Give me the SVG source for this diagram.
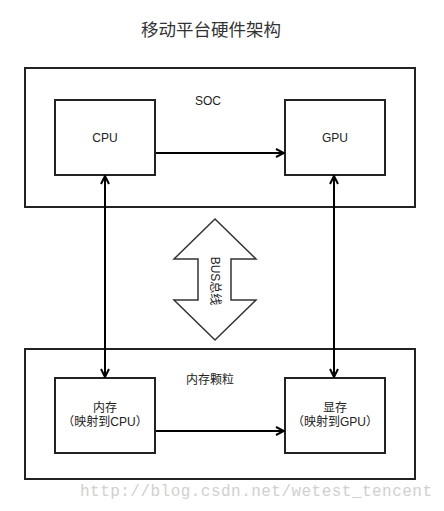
<svg xmlns="http://www.w3.org/2000/svg" width="444" height="511" viewBox="0 0 444 511">
<style>
.box{fill:#fff;stroke:#222;stroke-width:2}
.grp{fill:none;stroke:#222;stroke-width:2}
.t{font-family:"Liberation Sans","Noto Sans CJK SC",sans-serif;font-size:12px;fill:#222;text-anchor:middle}
.c{fill:none;stroke:#000;stroke-width:2}
</style>
<defs>
<marker id="a" viewBox="0 0 10 10" refX="9" refY="5" markerWidth="10" markerHeight="10" markerUnits="userSpaceOnUse" orient="auto-start-reverse">
<path d="M1,1 L9,5 L1,9" fill="none" stroke="#000" stroke-width="2"/>
</marker>
</defs>
<rect width="444" height="511" fill="#fff"/>
<text x="211" y="36" class="t" style="font-size:17.5px;fill:#333">移动平台硬件架构</text>
<g id="soc"><rect x="25" y="68" width="390" height="139" class="grp"/><text x="208" y="105" class="t">SOC</text></g>
<g id="mem"><rect x="25" y="349" width="390" height="130" class="grp"/><text x="210" y="384" class="t">内存颗粒</text></g>
<g id="cpu"><rect x="55" y="100" width="100" height="75" class="box"/><text x="105" y="142" class="t">CPU</text></g>
<g id="gpu"><rect x="285" y="100" width="100" height="75" class="box"/><text x="335" y="142" class="t">GPU</text></g>
<g id="ram"><rect x="55" y="378" width="100" height="75" class="box"/><text x="105" y="412" class="t">内存</text><text x="105" y="426" class="t">（映射到CPU）</text></g>
<g id="vram"><rect x="285" y="378" width="100" height="75" class="box"/><text x="335" y="412" class="t">显存</text><text x="335" y="426" class="t">（映射到GPU）</text></g>
<g id="bus"><polygon points="215,219 256,259 231,259 231,300 256,300 215,340 174,300 198,300 198,259 174,259" fill="#fff" stroke="#333" stroke-width="1.5"/>
<text class="t" transform="translate(211,281) rotate(90)">BUS总线</text></g>
<g id="connectors">
<line x1="156" y1="153" x2="284" y2="153" class="c" marker-end="url(#a)"/>
<line x1="156" y1="431" x2="284" y2="431" class="c" marker-end="url(#a)"/>
<line x1="105" y1="176" x2="105" y2="377" class="c" marker-start="url(#a)" marker-end="url(#a)"/>
<line x1="334" y1="176" x2="334" y2="377" class="c" marker-start="url(#a)" marker-end="url(#a)"/>
</g>
<text x="80" y="496" style="font-family:'Liberation Mono',monospace;font-size:16px;fill:#d0d0d0" textLength="352">http://blog.csdn.net/wetest_tencent</text>
</svg>
